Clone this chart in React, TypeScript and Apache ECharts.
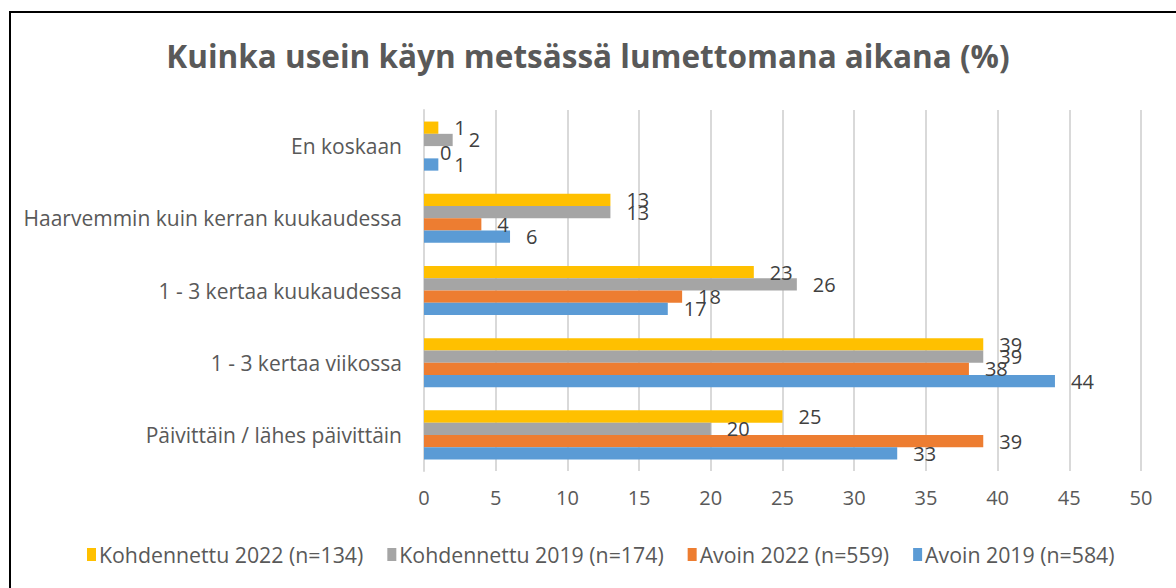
import React, { useEffect, useRef } from "react";
import * as echarts from "echarts";

const categories = [
  "En koskaan",
  "Haarvemmin kuin kerran kuukaudessa",
  "1 - 3 kertaa kuukaudessa",
  "1 - 3 kertaa viikossa",
  "Päivittäin / lähes päivittäin",
];
const seriesNames = [
  "Kohdennettu 2022 (n=134)",
  "Kohdennettu 2019 (n=174)",
  "Avoin 2022 (n=559)",
  "Avoin 2019 (n=584)",
];
const kohdennettu2022 = [1, 13, 23, 39, 25];
const kohdennettu2019 = [2, 13, 26, 39, 20];
const avoin2022 = [0, 4, 18, 38, 39];
const avoin2019 = [1, 6, 17, 44, 33];
const colors = ["#FFC000", "#A5A5A5", "#ED7D31", "#5B9BD5"];
const xTicks = [0, 5, 10, 15, 20, 25, 30, 35, 40, 45, 50];

const FONT = "Open Sans";

export default function App() {
  const ref = useRef<HTMLDivElement>(null);
  useEffect(() => {
    if (!ref.current) return;
    const chart = echarts.init(ref.current, null, { renderer: "svg" });
    const values = [kohdennettu2022, kohdennettu2019, avoin2022, avoin2019];
    chart.setOption({
      animation: false,
      backgroundColor: "#ffffff",
      textStyle: { fontFamily: FONT },
      title: {
        text: "Kuinka usein käyn metsässä lumettomana aikana (%)",
        left: "center",
        top: 34,
        textStyle: { fontFamily: FONT, fontSize: 31.5, fontWeight: "bold", color: "#595959" },
      },
      legend: {
        data: seriesNames,
        bottom: 18,
        left: 82,
        itemWidth: 9,
        itemHeight: 13,
        itemGap: 24,
        icon: "rect",
        textStyle: { fontFamily: FONT, fontSize: 21.3, color: "#595959", padding: [0, 0, 0, -2] },
      },
      grid: { left: 424, right: 35, top: 110, bottom: 117, containLabel: false },
      xAxis: {
        type: "value",
        min: 0,
        max: 50,
        interval: 5,
        axisLine: { show: false },
        axisTick: { show: false },
        splitLine: { show: true, lineStyle: { color: "#D9D9D9", width: 2 } },
        axisLabel: {
          fontFamily: FONT,
          fontSize: 20,
          color: "#595959",
          margin: 16,
          formatter: (v: number) => (xTicks.includes(v) ? String(v) : ""),
        },
      },
      yAxis: {
        type: "category",
        data: categories,
        inverse: true,
        axisLine: { show: true, lineStyle: { color: "#D9D9D9", width: 2 } },
        axisTick: { show: false },
        axisLabel: { fontFamily: FONT, fontSize: 21, color: "#595959", margin: 22 },
      },
      series: seriesNames.map((name, i) => ({
        name,
        type: "bar",
        data: values[i],
        barGap: "0%",
        barCategoryGap: "32%",
        itemStyle: { color: colors[i] },
        label: {
          show: true,
          position: "right",
          distance: 16,
          fontFamily: FONT,
          fontSize: 20,
          color: "#404040",
        },
      })),
      graphic: [
        { type: "line", shape: { x1: 10, y1: 11, x2: 10, y2: 588 }, style: { stroke: "#000", lineWidth: 2 } },
        { type: "line", shape: { x1: 9, y1: 12, x2: 1176, y2: 12 }, style: { stroke: "#000", lineWidth: 2 } },
      ],
    });
    return () => chart.dispose();
  }, []);
  return (
    <div
      ref={ref}
      style={{ position: "fixed", left: 0, top: 0, width: 1176, height: 588 }}
    />
  );
}
